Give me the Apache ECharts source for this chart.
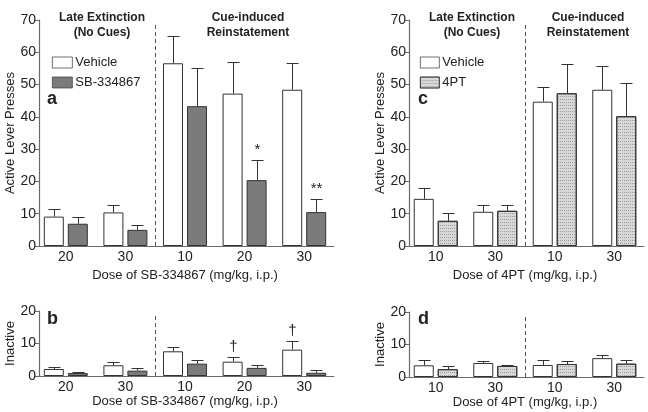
<!DOCTYPE html>
<html><head><meta charset="utf-8">
<script src="https://cdn.jsdelivr.net/npm/echarts@6/dist/echarts.min.js"></script>
<style>html,body{margin:0;padding:0;background:#fff}#c{width:648px;height:412px}</style>
</head><body><div id="c"></div>
<script>
// ---- data ----
const catsA = ['20', '30', '10', '20', '30'];
const vehA = [9.1, 10.4, 56.6, 47.2, 48.4];
const vehAErr = [2.4, 2.3, 8.4, 9.8, 8.2];
const sbA = [6.9, 5.0, 43.3, 20.4, 10.5];
const sbAErr = [2.2, 1.4, 11.8, 6.3, 4.1];
const sbASig = ['', '', '', '*', '**'];

const vehB = [2.15, 3.3, 7.6, 4.4, 8.1];
const vehBErr = [0.75, 1.0, 1.4, 1.4, 2.7];
const vehBSig = ['', '', '', '\u2020', '\u2020'];
const sbB = [0.9, 1.65, 3.8, 2.5, 1.0];
const sbBErr = [0.45, 0.75, 1.2, 0.8, 1.0];

const catsC = ['10', '30', '10', '30'];
const vehC = [14.6, 10.6, 44.7, 48.4];
const vehCErr = [3.4, 2.0, 4.4, 7.5];
const ptC = [7.8, 10.9, 47.3, 40.2];
const ptCErr = [2.3, 1.7, 9.0, 10.2];

const vehD = [3.6, 4.3, 3.7, 5.8];
const vehDErr = [1.7, 0.6, 1.4, 1.1];
const ptD = [2.4, 3.4, 4.0, 4.1];
const ptDErr = [1.0, 0.3, 1.0, 1.1];

const yTicksTop = [0, 70, 10];
const yTicksBottom = [0, 20, 10];

// ---- styles ----
const FONT = 'Liberation Sans';
const AX = '#6a6a6a';
const EDGE = '#333';
const vehStyle = { color: '#ffffff', borderColor: EDGE, borderWidth: 1 };
const sbStyle = { color: '#7b7b7b', borderColor: EDGE, borderWidth: 1 };
const ptStyle = { color: '#d8d8d8', borderColor: EDGE, borderWidth: 1,
  decal: { symbol: 'rect', symbolSize: 1, color: 'rgba(90,90,90,0.45)', dashArrayX: [1, 1], dashArrayY: [1, 2], rotation: 0 } };

const grids = [
  { left: 36, top: 20, width: 298, height: 226 },
  { left: 36, top: 311, width: 298, height: 65 },
  { left: 406, top: 20, width: 238, height: 226 },
  { left: 406, top: 312, width: 238, height: 65 }
];

function xAx(gi, cats, name, nameGap) {
  return { type: 'category', gridIndex: gi, data: cats, name: name, nameLocation: 'middle', nameGap: nameGap,
    nameTextStyle: { fontFamily: FONT, fontSize: 13, color: '#222' },
    axisLine: { lineStyle: { color: AX, width: 1.2 } }, axisTick: { show: false },
    axisLabel: { fontFamily: FONT, fontSize: 14, color: '#222', margin: 4 } };
}
function yAx(gi, t, name, nameGap) {
  return { type: 'value', gridIndex: gi, min: t[0], max: t[1], interval: t[2], offset: -3,
    name: name, nameLocation: 'middle', nameGap: nameGap,
    nameTextStyle: { fontFamily: FONT, fontSize: 13, color: '#222' },
    splitLine: { show: false },
    axisLine: { show: true, lineStyle: { color: AX, width: 1.2 } },
    axisTick: { show: true, length: 4, lineStyle: { color: AX } },
    axisLabel: { fontFamily: FONT, fontSize: 14, color: '#222', margin: 3 } };
}

function bar(name, gi, vals, style) {
  return { type: 'bar', name: name, xAxisIndex: gi, yAxisIndex: gi, data: vals, barWidth: 20, barGap: '20%',
    itemStyle: style, emphasis: { disabled: true }, z: 2 };
}
function err(gi, vals, errs, offset, sig) {
  return { type: 'custom', xAxisIndex: gi, yAxisIndex: gi, z: 3, silent: true,
    data: vals.map((v, i) => [i, v, errs[i], sig ? sig[i] : '']),
    encode: { x: 0, y: 1 },
    renderItem: function (params, api) {
      const base = api.coord([api.value(0), api.value(1)]);
      const top = api.coord([api.value(0), api.value(1) + api.value(2)]);
      const x = Math.round(base[0] + offset) + 0.5;
      const yt = Math.round(top[1]) + 0.5;
      const s = { stroke: EDGE, lineWidth: 1 };
      const ch = [
        { type: 'line', shape: { x1: x, y1: base[1], x2: x, y2: yt }, style: s },
        { type: 'line', shape: { x1: x - 6, y1: yt, x2: x + 6, y2: yt }, style: s }
      ];
      const lab = api.value(3);
      if (lab) ch.push({ type: 'text', x: x, y: yt - 3,
        style: { text: lab, fill: '#222', font: '15px ' + FONT, textAlign: 'center', textVerticalAlign: 'bottom' } });
      return { type: 'group', children: ch };
    } };
}
function sep(gi, ymax) {
  return { type: 'custom', xAxisIndex: gi, yAxisIndex: gi, z: 1, silent: true, data: [[0, 0]],
    renderItem: function (params, api) {
      const a = api.coord([1, 0]);
      const b = api.coord([2, ymax]);
      const x = Math.round((a[0] + b[0]) / 2) + 0.5;
      return { type: 'line', shape: { x1: x, y1: a[1], x2: x, y2: b[1] + 2 },
        style: { stroke: '#555', lineWidth: 1, lineDash: [4, 3] } };
    } };
}

const headStyle = { fontFamily: FONT, fontSize: 12, fontWeight: 'bold', color: '#222', lineHeight: 15 };
const letterStyle = { fontFamily: FONT, fontSize: 18, fontWeight: 'bold', color: '#222' };
const legText = { fontFamily: FONT, fontSize: 13, color: '#222', padding: [0, 0, 0, -2] };

const option = {
  animation: false,
  backgroundColor: '#fff',
  title: [
    { text: 'Late Extinction\n(No Cues)', left: 97, top: 5, textAlign: 'center', textStyle: headStyle },
    { text: 'Cue-induced\nReinstatement', left: 243, top: 5, textAlign: 'center', textStyle: headStyle },
    { text: 'Late Extinction\n(No Cues)', left: 467, top: 5, textAlign: 'center', textStyle: headStyle },
    { text: 'Cue-induced\nReinstatement', left: 583, top: 5, textAlign: 'center', textStyle: headStyle },
    { text: 'a', left: 42, top: 85, textStyle: letterStyle },
    { text: 'b', left: 42, top: 305, textStyle: letterStyle },
    { text: 'c', left: 413, top: 85, textStyle: letterStyle },
    { text: 'd', left: 413, top: 305, textStyle: letterStyle }
  ],
  legend: [
    { orient: 'vertical', left: 47, top: 51, itemWidth: 20, itemHeight: 11, itemGap: 7, icon: 'rect',
      data: ['Vehicle', 'SB-334867'], selectedMode: false, itemStyle: { borderWidth: 0.7 }, textStyle: legText },
    { orient: 'vertical', left: 415, top: 51, itemWidth: 19, itemHeight: 11, itemGap: 7, icon: 'rect',
      data: ['Vehicle', '4PT'], selectedMode: false, itemStyle: { borderWidth: 0.7 }, textStyle: legText }
  ],
  grid: grids,
  xAxis: [
    xAx(0, catsA, 'Dose of SB-334867 (mg/kg, i.p.)', 16),
    xAx(1, catsA, 'Dose of SB-334867 (mg/kg, i.p.)', 18),
    xAx(2, catsC, 'Dose of 4PT (mg/kg, i.p.)', 16),
    xAx(3, catsC, 'Dose of 4PT (mg/kg, i.p.)', 18)
  ],
  yAxis: [
    yAx(0, yTicksTop, 'Active Lever Presses', 20),
    yAx(1, yTicksBottom, 'Inactive', 20),
    yAx(2, yTicksTop, 'Active Lever Presses', 21),
    yAx(3, yTicksBottom, 'Inactive', 21)
  ],
  series: [
    bar('Vehicle', 0, vehA, vehStyle), bar('SB-334867', 0, sbA, sbStyle),
    err(0, vehA, vehAErr, -12), err(0, sbA, sbAErr, 12, sbASig), sep(0, 70),
    bar('Vehicle', 1, vehB, vehStyle), bar('SB-334867', 1, sbB, sbStyle),
    err(1, vehB, vehBErr, -12, vehBSig), err(1, sbB, sbBErr, 12), sep(1, 20),
    bar('Vehicle', 2, vehC, vehStyle), bar('4PT', 2, ptC, ptStyle),
    err(2, vehC, vehCErr, -12), err(2, ptC, ptCErr, 12), sep(2, 70),
    bar('Vehicle', 3, vehD, vehStyle), bar('4PT', 3, ptD, ptStyle),
    err(3, vehD, vehDErr, -12), err(3, ptD, ptDErr, 12), sep(3, 20)
  ]
};
const chart = echarts.init(document.getElementById('c'), null, { renderer: 'canvas' });
chart.setOption(option);
</script></body></html>
